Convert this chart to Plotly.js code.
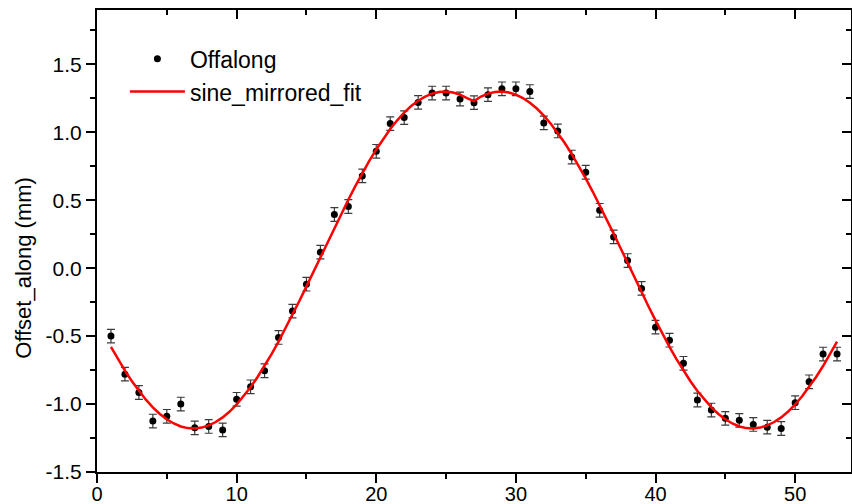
<!DOCTYPE html>
<html>
<head>
<meta charset="utf-8">
<script src="https://cdn.plot.ly/plotly-3.0.1.min.js"></script>
<style>
  html, body { margin: 0; padding: 0; background: #fff; }
  #chart { width: 852px; height: 504px; }
</style>
</head>
<body>
<div id="chart"></div>
<script>
// Measured offsets along the track (mm) per position
const posX = [1,2,3,4,5,6,7,8,9,10,11,12,13,14,15,16,17,18,19,20,21,22,23,24,25,26,27,
              28,29,30,31,32,33,34,35,36,37,38,39,40,41,42,43,44,45,46,47,48,49,50,51,52,53];
const offalong = [-0.50,-0.78,-0.915,-1.125,-1.09,-1.00,-1.175,-1.165,-1.19,-0.965,-0.873,-0.755,
                  -0.51,-0.316,-0.118,0.118,0.395,0.454,0.679,0.86,1.064,1.108,1.22,1.289,1.289,
                  1.245,1.218,1.277,1.32,1.32,1.30,1.069,1.01,0.818,0.706,0.426,0.23,0.056,-0.149,
                  -0.434,-0.53,-0.70,-0.97,-1.044,-1.105,-1.12,-1.15,-1.17,-1.18,-0.99,-0.836,
                  -0.632,-0.632];
const offalongErr = [0.05,0.05,0.05,0.05,0.05,0.05,0.05,0.05,0.05,0.05,0.05,0.05,0.05,0.05,0.05,
                     0.05,0.05,0.05,0.05,0.05,0.05,0.05,0.05,0.05,0.05,0.05,0.05,0.05,0.05,0.05,
                     0.05,0.05,0.05,0.05,0.05,0.05,0.05,0.05,0.05,0.05,0.05,0.05,0.05,0.05,0.05,
                     0.05,0.05,0.05,0.05,0.05,0.05,0.05,0.05];

// Fitted curve (mirrored sine), sampled every half step
const fitX = [1,1.5,2,2.5,3,3.5,4,4.5,5,5.5,6,6.5,7,7.5,8,8.5,9,9.5,10,10.5,11,11.5,12,12.5,13,13.5,
              14,14.5,15,15.5,16,16.5,17,17.5,18,18.5,19,19.5,20,20.5,21,21.5,22,22.5,23,23.5,24,
              24.5,25,25.5,26,26.5,27,27.5,28,28.5,29,29.5,30,30.5,31,31.5,32,32.5,33,33.5,34,34.5,
              35,35.5,36,36.5,37,37.5,38,38.5,39,39.5,40,40.5,41,41.5,42,42.5,43,43.5,44,44.5,45,
              45.5,46,46.5,47,47.5,48,48.5,49,49.5,50,50.5,51,51.5,52,52.5,53];
const fitY = [-0.579,-0.669,-0.754,-0.832,-0.904,-0.968,-1.024,-1.073,-1.112,-1.143,-1.165,-1.177,
              -1.180,-1.173,-1.157,-1.132,-1.098,-1.055,-1.003,-0.943,-0.876,-0.801,-0.720,-0.633,
              -0.541,-0.444,-0.344,-0.240,-0.134,-0.027,0.082,0.190,0.297,0.402,0.504,0.604,0.699,
              0.789,0.874,0.952,1.024,1.088,1.145,1.193,1.232,1.263,1.285,1.297,1.300,1.293,1.277,
              1.252,1.230,1.263,1.285,1.297,1.300,1.293,1.277,1.252,1.218,1.175,1.123,1.063,0.996,
              0.921,0.840,0.753,0.661,0.564,0.464,0.360,0.254,0.147,0.038,-0.070,-0.177,-0.282,
              -0.384,-0.484,-0.579,-0.669,-0.754,-0.832,-0.904,-0.968,-1.024,-1.073,-1.112,-1.143,
              -1.165,-1.177,-1.180,-1.173,-1.157,-1.132,-1.098,-1.055,-1.003,-0.943,-0.876,-0.801,
              -0.720,-0.633,-0.541];

const yTickVals = [-1.5,-1.0,-0.5,0.0,0.5,1.0,1.5];
const yTickText = ['-1.5','-1.0','-0.5','0.0','0.5','1.0','1.5'];
const xTickVals = [0,10,20,30,40,50];
const xTickText = ['0','10','20','30','40','50'];

const FONT = 'Liberation Sans, Arial, sans-serif';

const traces = [
  {
    x: posX, y: offalong, name: 'Offalong', type: 'scatter', mode: 'markers',
    marker: {color: '#000', size: 7},
    error_y: {type: 'data', array: offalongErr, visible: true, color: '#3a3a3a', thickness: 1.2, width: 4}
  },
  {
    x: fitX, y: fitY, name: 'sine_mirrored_fit', type: 'scatter', mode: 'lines',
    line: {color: '#ff0000', width: 2.5}
  },
  // carries the top / right frame axes
  {x: [], y: [], xaxis: 'x2', yaxis: 'y2', showlegend: false, hoverinfo: 'skip'}
];

const axisCommon = {
  showgrid: false, zeroline: false, showline: true, linecolor: '#000', linewidth: 2,
  tickcolor: '#000', tickwidth: 2, ticklen: 9
};

const layout = {
  width: 852, height: 504,
  margin: {l: 97, r: 1, t: 10, b: 32},
  paper_bgcolor: '#fff', plot_bgcolor: '#fff',
  font: {family: FONT, color: '#000'},
  showlegend: true,
  legend: {
    x: 0.037, y: 0.941, xanchor: 'left', yanchor: 'top',
    bgcolor: 'rgba(0,0,0,0)', borderwidth: 0,
    font: {family: FONT, size: 23, color: '#000'},
    itemwidth: 55, tracegroupgap: 0
  },
  xaxis: Object.assign({}, axisCommon, {
    range: [0, 54], tickmode: 'array', tickvals: xTickVals, ticktext: xTickText,
    ticks: 'outside', tickfont: {family: FONT, size: 20, color: '#000'}, ticklabelstandoff: -6,
    minor: {tickmode: 'linear', tick0: 0, dtick: 5, ticks: 'outside', ticklen: 5, tickwidth: 2, tickcolor: '#000'}
  }),
  yaxis: Object.assign({}, axisCommon, {
    range: [-1.5, 1.9], tickmode: 'array', tickvals: yTickVals, ticktext: yTickText,
    ticks: 'outside', tickfont: {family: FONT, size: 21, color: '#000'},
    minor: {tickmode: 'linear', tick0: -1.5, dtick: 0.25, ticks: 'outside', ticklen: 5, tickwidth: 2, tickcolor: '#000'}
  }),
  xaxis2: Object.assign({}, axisCommon, {
    overlaying: 'x', side: 'top', range: [0, 54], showticklabels: false,
    tickmode: 'linear', tick0: 0, dtick: 10, ticks: 'inside',
    minor: {tickmode: 'linear', tick0: 0, dtick: 5, ticks: 'inside', ticklen: 5, tickwidth: 2, tickcolor: '#000'}
  }),
  yaxis2: Object.assign({}, axisCommon, {
    overlaying: 'y', side: 'right', range: [-1.5, 1.9], showticklabels: false,
    tickmode: 'linear', tick0: -1.5, dtick: 0.5, ticks: 'inside',
    minor: {tickmode: 'linear', tick0: -1.5, dtick: 0.25, ticks: 'inside', ticklen: 5, tickwidth: 2, tickcolor: '#000'}
  }),
  annotations: [{
    text: 'Offset_along (mm)', textangle: -90, showarrow: false,
    xref: 'paper', yref: 'paper', x: -0.097, y: 0.4416, xanchor: 'center', yanchor: 'middle',
    font: {family: FONT, size: 22, color: '#000'}
  }]
};

Plotly.newPlot('chart', traces, layout, {displayModeBar: false, staticPlot: true});
</script>
</body>
</html>
